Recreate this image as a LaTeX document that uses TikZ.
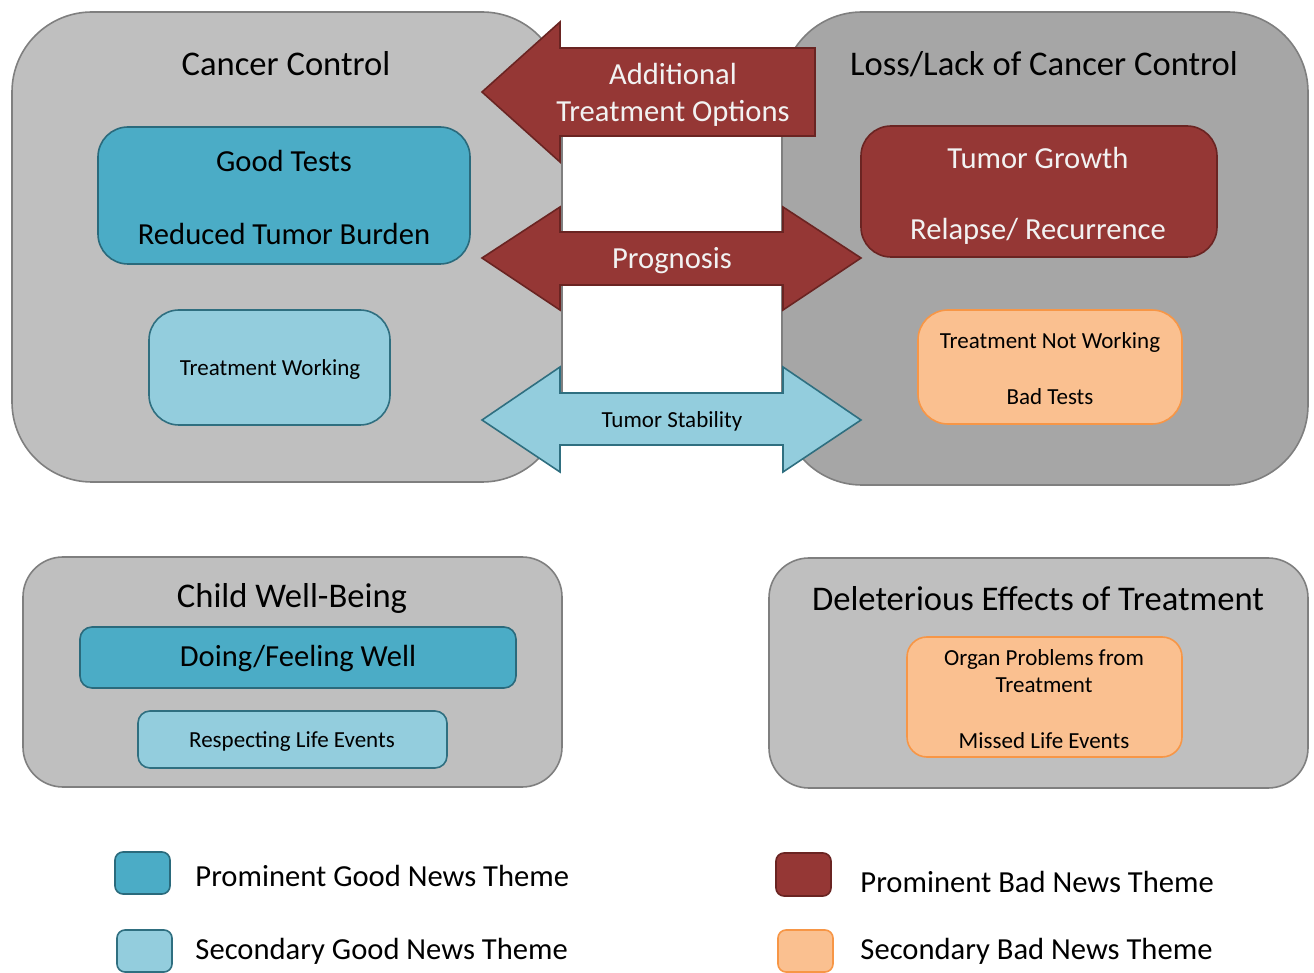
\documentclass[tikz,border=0pt]{standalone}
\usepackage{fontspec}
\setmainfont{Carlito}
\usepackage{xcolor}
\usepackage{tikz}

\definecolor{panelLight}{HTML}{BFBFBF}
\definecolor{panelDark}{HTML}{A6A6A6}
\definecolor{panelEdge}{HTML}{7F7F7F}
\definecolor{goodMain}{HTML}{4BACC6}
\definecolor{goodMainEdge}{HTML}{2A6A7C}
\definecolor{goodSec}{HTML}{93CDDD}
\definecolor{goodSecEdge}{HTML}{2F6F80}
\definecolor{badMain}{HTML}{953735}
\definecolor{badMainEdge}{HTML}{6A2422}
\definecolor{badSec}{HTML}{FAC090}
\definecolor{badSecEdge}{HTML}{F79646}
\definecolor{paleText}{HTML}{F2F2F2}

\begin{document}
\begin{tikzpicture}[x=0.5pt,y=-0.5pt,line width=0.8pt,
  headline/.style={font=\fontsize{17.3}{20}\selectfont},
  mainline/.style={font=\fontsize{15.3}{18.5}\selectfont,align=center},
  subline/.style={font=\fontsize{11.5}{13.5}\selectfont,align=center},
  goodA/.style={fill=goodMain,draw=goodMainEdge},
  goodB/.style={fill=goodSec,draw=goodSecEdge},
  badA/.style={fill=badMain,draw=badMainEdge},
  badB/.style={fill=badSec,draw=badSecEdge}]
\useasboundingbox (0,0) rectangle (1314,973);
\filldraw[fill=panelLight,draw=panelEdge,rounded corners=40pt] (12,12) rectangle (562,482);
\filldraw[fill=panelDark,draw=panelEdge,rounded corners=40pt] (782,12) rectangle (1308,485);
\filldraw[badA] (482,92) -- (560,22) -- (560,48) -- (815,48) -- (815,136) -- (560,136) -- (560,162) -- cycle;
\filldraw[badA] (482,258) -- (560,207) -- (560,232) -- (783,232) -- (783,207) -- (861,258) -- (783,310) -- (783,285) -- (560,285) -- (560,310) -- cycle;
\filldraw[goodB] (482,420) -- (560,367) -- (560,393) -- (783,393) -- (783,367) -- (861,420) -- (783,472) -- (783,445) -- (560,445) -- (560,472) -- cycle;
\filldraw[goodA,rounded corners=15pt] (98,127) rectangle (470,264);
\filldraw[goodB,rounded corners=15pt] (149,310) rectangle (390,425);
\filldraw[badA,rounded corners=15pt] (861,126) rectangle (1217,257);
\filldraw[badB,rounded corners=15pt] (918,310) rectangle (1182,424);
\node[headline] (cc) at (286,64) {Cancer Control};
\node[headline] (lcc) at (1044,64) {Loss/Lack of Cancer Control};
\node[mainline] (gt) at (284,161) {Good Tests};
\node[mainline] (rtb) at (284,234) {Reduced Tumor Burden};
\node[subline] (tw) at (270,369) {Treatment Working};
\node[mainline,text=paleText] (tg) at (1038,158) {Tumor Growth};
\node[mainline,text=paleText] (rr) at (1038,231) {Relapse/ Recurrence};
\node[subline] (tnw) at (1050,342) {Treatment Not Working};
\node[subline] (bt) at (1050,397) {Bad Tests};
\node[mainline,text=paleText] (ato) at (673,95) {Additional\\Treatment Options};
\node[mainline,text=paleText] (prog) at (672,261) {Prognosis};
\node[subline] (ts) at (672,421) {Tumor Stability};

\filldraw[fill=panelLight,draw=panelEdge,rounded corners=20pt] (23,557) rectangle (562,787);
\filldraw[fill=panelLight,draw=panelEdge,rounded corners=20pt] (769,558) rectangle (1308,788);
\filldraw[goodA,rounded corners=6pt] (80,627) rectangle (516,688);
\filldraw[goodB,rounded corners=6pt] (138,711) rectangle (447,768);
\filldraw[badB,rounded corners=10pt] (907,637) rectangle (1182,757);
\node[headline] (cwb) at (292,598) {Child Well-Being};
\node[headline] (det) at (1038,599) {Deleterious Effects of Treatment};
\node[mainline] (dfw) at (298,659) {Doing/Feeling Well};
\node[subline] (rle) at (292,742) {Respecting Life Events};
\node[subline] (opt) at (1044,671) {Organ Problems from\\Treatment};
\node[subline] (mle) at (1044,741) {Missed Life Events};

\filldraw[goodA,rounded corners=4pt] (115,852) rectangle (170,894);
\filldraw[goodB,rounded corners=4pt] (117,930) rectangle (172,972);
\filldraw[badA,rounded corners=4pt] (776,853) rectangle (831,896);
\filldraw[badB,rounded corners=4pt] (778,930) rectangle (833,972);
\node[mainline,anchor=west] (kga) at (188,876) {Prominent Good News Theme};
\node[mainline,anchor=west] (kgb) at (188,951) {Secondary Good News Theme};
\node[mainline,anchor=west] (kba) at (853,882) {Prominent Bad News Theme};
\node[mainline,anchor=west] (kbb) at (853,951) {Secondary Bad News Theme};
\end{tikzpicture}
\end{document}
